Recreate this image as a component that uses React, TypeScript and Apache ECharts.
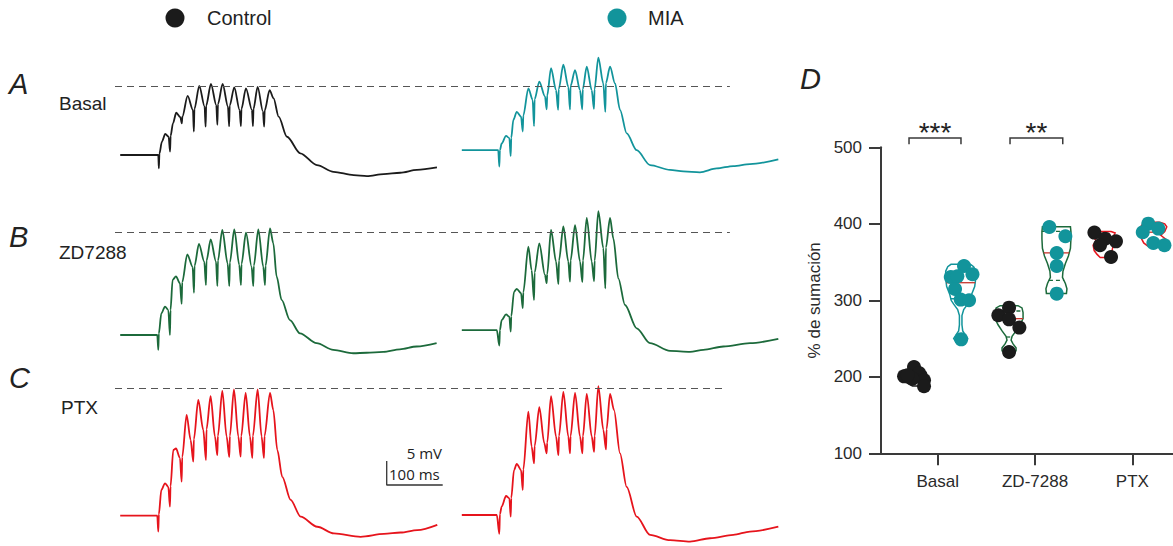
import React, { useEffect, useRef } from "react";
import * as echarts from "echarts";

// ---------- colours ----------
const BLACK = "#1b1b1b";
const TEAL = "#12949b";
const GREEN = "#1c6a3b";
const RED = "#e6141c";
const AXIS = "#3a3a3a";
const FONT = '"Liberation Sans", Arial, sans-serif';

// ---------- traces: [ms from first stimulus, mV from control baseline] ----------
const A_CONTROL: number[][] = [
  [-68, 0], [0, 0], [1, -2.8], [2, 0.3], [6.5, 2.8], [12.5, 4.4],
  [18.5, 3.8], [21, 0.7], [22, 4.0], [26.2, 6.6], [32.1, 8.8],
  [39.3, 7.9], [42, 6.6], [43, 8.0], [52.4, 12.3],
  [61.9, 9.4], [63.5, 4.9], [64.5, 9.6], [73.2, 14.4],
  [82.7, 10.1], [84.5, 5.9], [85.5, 10.3], [94, 14.8],
  [103.6, 10.4], [105.5, 6.3], [106.5, 10.6], [114.9, 14.8],
  [124.4, 10.1], [126.5, 6.0], [127.5, 10.3], [135.7, 14.1],
  [145.2, 9.4], [147.5, 6.0], [148.5, 9.6], [156.5, 13.9],
  [167.3, 9.4], [169, 6.0], [170, 9.6], [177.4, 14.2],
  [186.9, 9.1], [189, 5.9], [190, 9.3], [198.8, 13.5],
  [205.9, 11.8], [214.9, 8.0], [229.8, 3.8], [253.6, 0.35], [283.3, -2.1], [313.1, -3.5],
  [348.8, -4.2], [372.6, -4.4], [402.4, -4.0], [432.1, -3.7], [461.9, -3.1], [497.6, -2.6],
];
const A_MIA: number[][] = [
  [-67, 1.0], [-2, 1.0], [0, -2.4], [1, 1.0], [4.2, 2.4], [12, 4.0],
  [17.9, 3.5], [20.3, -0.2], [21.3, 3.6], [25, 7.3], [31.1, 9.0],
  [38.8, 8.0], [41.8, 4.9], [42.8, 8.2], [51.8, 13.9],
  [59.5, 11.5], [62, 6.0], [63, 11.6], [71.4, 15.3],
  [81.5, 12.2], [84.5, 9.5], [85.5, 12.4], [92.3, 18.1],
  [101.3, 13.5], [105, 9.4], [106, 13.7], [114.3, 18.8],
  [123.2, 14.2], [126.2, 9.5], [127.2, 14.4], [135.2, 17.7],
  [144.1, 13.5], [148, 9.5], [149, 13.7], [156.1, 18.4],
  [165, 13.5], [169, 9.6], [170, 13.7], [176.8, 20.3],
  [185.7, 14.9], [189.3, 9.0], [190.3, 15.0], [197.7, 18.4],
  [206.6, 14.9], [215.5, 9.4], [227.5, 4.5], [245.3, 1.0], [269.1, -2.1], [304.8, -3.1],
  [328.6, -3.4], [358.3, -3.6], [388.1, -2.8], [417.9, -2.3], [447.6, -1.9], [498.2, -0.9],
];
const B_CONTROL: number[][] = [
  [-68, 0], [-1.8, 0], [0, -3.1], [1, 0.3], [5.4, 4.5], [12, 5.9],
  [17.9, 5.2], [20.8, 0], [21.8, 5.2], [25.6, 11.5], [31.6, 12.2],
  [38.7, 10.8], [41.7, 6.5], [42.7, 11.0], [51.8, 16.8],
  [61.3, 14.2], [63.7, 8.8], [64.7, 14.4], [72.6, 19.0],
  [82.1, 15.3], [85.1, 10.4], [86.1, 15.5], [93.6, 19.9],
  [103.1, 15.3], [105.5, 10.2], [106.5, 15.5], [114.3, 21.9],
  [123.8, 14.9], [126.8, 10.2], [127.8, 15.1], [135.7, 22.0],
  [144.6, 14.6], [147.6, 10.4], [148.6, 14.8], [156.6, 21.3],
  [166.7, 14.2], [169.6, 10.2], [170.6, 14.4], [178.6, 22.0],
  [187.5, 14.2], [190.5, 10.4], [191.5, 14.4], [199.5, 22.2],
  [205.4, 19.1], [211.3, 12.2], [220.2, 7.3], [235.1, 3.1], [253, 0.35], [282.7, -1.7],
  [312.5, -3.1], [348.2, -3.8], [372, -3.7], [401.8, -3.5], [431.5, -3.0], [461.3, -2.4], [497, -1.7],
];
const B_MIA: number[][] = [
  [-67, 1.0], [-4.5, 1.0], [0, -2.2], [1, 1.0], [4.2, 3.1], [12, 4.3],
  [17.9, 3.8], [20.3, 0.7], [21.3, 3.9], [26.2, 9.0], [31.1, 9.6],
  [38.8, 8.7], [41.8, 5.6], [42.8, 8.9], [51.8, 18.4],
  [57.7, 13.5], [62, 7.3], [63, 13.0], [71.4, 19.1],
  [81.5, 12.5], [84.5, 10.8], [85.5, 12.7], [92.3, 21.9],
  [101.3, 15.3], [105.5, 10.6], [106.5, 15.5], [114.3, 22.6],
  [123.2, 15.3], [126.2, 11.1], [127.2, 15.5], [135.2, 22.9],
  [144.1, 15.3], [148.3, 11.0], [149.3, 15.5], [156.1, 24.4],
  [165, 15.3], [169.2, 11.2], [170.2, 15.5], [176.8, 25.8],
  [185.7, 18.1], [189.3, 9.7], [190.3, 18.2], [197.7, 24.4],
  [203.6, 20.1], [212.5, 11.8], [224.4, 6.25], [245.3, 1.4], [269.1, -1.7], [304.8, -3.3],
  [340.5, -3.5], [364.3, -3.1], [400, -2.4], [447.6, -1.7], [498.2, -0.8],
];
const C_CONTROL: number[][] = [
  [-68, 0], [-1.8, 0], [0, -3.3], [1, 0.3], [5.4, 5.35], [12, 6.75],
  [17.9, 6.0], [20.8, 1.9], [21.8, 6.1], [26.8, 13.7], [31.6, 14.0],
  [38.7, 12.0], [41.7, 7.1], [42.7, 12.2], [50.6, 21.0],
  [57.7, 15.8], [62.5, 11.25], [63.5, 15.9], [71.4, 24.1],
  [80.4, 17.85], [85.1, 11.6], [86.1, 18.0], [93.4, 24.9],
  [101.2, 16.5], [105.4, 12.6], [106.4, 16.6], [114.3, 26.0],
  [122, 16.5], [126.8, 12.2], [127.8, 16.6], [135.1, 26.3],
  [142.9, 16.5], [147.1, 12.3], [148.1, 16.6], [156, 25.6],
  [163.7, 16.5], [167.9, 12.0], [168.9, 16.6], [177.4, 26.3],
  [184.5, 16.5], [188.7, 12.0], [189.7, 16.6], [199.5, 25.6],
  [205.4, 22.0], [212.5, 13.7], [221.4, 8.1], [236.3, 3.3], [254.2, -0.2], [283.9, -2.3],
  [313.7, -3.7], [361.3, -4.4], [403, -3.8], [432.7, -3.5], [462.5, -3.0], [498.2, -1.9],
];
const C_MIA: number[][] = [
  [-67, 0.15], [-4.5, 0.15], [0, -3.8], [1, 0.3], [4.2, 1.9], [12, 4.1],
  [17.9, 3.6], [20.3, -0.2], [21.3, 3.7], [26.2, 9.5], [31.1, 10.8],
  [38.8, 9.5], [41.8, 5.35], [42.8, 9.6], [51.8, 21.7],
  [57.7, 14.4], [62, 10.9], [63, 14.5], [71.4, 22.6],
  [80.3, 15.1], [84.5, 13.0], [85.5, 15.2], [92.3, 24.9],
  [101.3, 16.5], [105.5, 12.6], [106.5, 16.6], [114.3, 25.8],
  [123.2, 16.5], [126.2, 13.0], [127.2, 16.6], [135.2, 25.6],
  [144.1, 16.5], [148.3, 13.0], [149.3, 16.6], [156.1, 25.4],
  [165, 16.5], [169.2, 13.3], [170.2, 16.6], [176.8, 27.0],
  [185.7, 17.9], [190.5, 13.8], [191.5, 18.0], [197.7, 25.4],
  [204.8, 22.0], [215.5, 13.0], [227.4, 6.0], [245.3, -0.2], [269.1, -4.0], [304.8, -5.1],
  [340.5, -5.4], [376.2, -4.7], [417.9, -4.0], [447.6, -3.3], [498.2, -2.3],
];
const ROW_LABELS = ["Basal", "ZD7288", "PTX"];
const PANEL_LETTERS = ["A", "B", "C", "D"];
const DASH_LEVELS = [14.4, 21.4, 26.5]; // mV of the dashed reference lines
const SCALE_MV = 5;
const SCALE_MS = 100;

// ---------- panel D ----------
const CATEGORIES = ["Basal", "ZD-7288", "PTX"];
const Y_MIN = 100;
const Y_MAX = 500;
const Y_STEP = 100;
const Y_NAME = "% de sumación";
// [x position (category index + jitter), % summation]
const CONTROL_POINTS: number[][] = [
  [0.654, 200.6], [0.756, 212.8], [0.808, 205], [0.859, 195.4], [0.859, 187.6], [0.74, 197.6], [0.689, 202],
  [1.623, 280.4], [1.733, 290.4], [1.733, 275.1], [1.839, 264.3], [1.733, 232.4],
  [2.61, 388.5], [2.72, 380.6], [2.832, 377.1], [2.668, 371.9], [2.781, 356.6],
];
const MIA_POINTS: number[][] = [
  [1.27, 344.8], [1.134, 330.5], [1.202, 331.4], [1.357, 334], [1.178, 314.8], [1.236, 300.9], [1.322, 300], [1.241, 249],
  [2.147, 395.8], [2.312, 383.7], [2.223, 361.8], [2.223, 344.8], [2.223, 308.7],
  [3.164, 400.2], [3.107, 388.9], [3.267, 393.7], [3.216, 374.9], [3.33, 371.9],
];
// violin outlines: [%, half width in category units]
const V_BASAL_CTRL = [[188, 0.03], [193, 0.1], [199, 0.13], [206, 0.11], [213, 0.04]];
const V_BASAL_MIA = [[244, 0], [246, 0.051], [250, 0.072], [254, 0.051], [260, 0.021], [268, 0.013], [280, 0.013], [288, 0.031], [295, 0.072], [300, 0.098], [308, 0.113], [318, 0.144], [328, 0.154], [338, 0.154], [344, 0.133], [347, 0.1]];
const V_ZD_CTRL = [[231, 0.03], [234, 0.072], [238, 0.072], [243, 0.041], [248, 0.021], [253, 0.031], [260, 0.072], [268, 0.113], [276, 0.144], [284, 0.144], [290, 0.133], [293, 0.092]];
const V_ZD_MIA = [[309, 0.103], [315, 0.108], [322, 0.092], [330, 0.062], [338, 0.067], [348, 0.092], [358, 0.123], [368, 0.144], [380, 0.149], [390, 0.149], [396, 0.144]];
const V_PTX_CTRL = [[356, 0.03], [360, 0.062], [365, 0.092], [372, 0.103], [378, 0.072], [383, 0.103], [388, 0.123], [390, 0.082]];
const V_PTX_MIA = [[371, 0.062], [375, 0.103], [380, 0.123], [385, 0.072], [390, 0.113], [396, 0.134], [400, 0.113], [402, 0.062]];
const VIOLINS = [
  { x: 0.77, color: BLACK, outline: V_BASAL_CTRL, median: 200, q: [] as number[] },
  { x: 1.236, color: TEAL, outline: V_BASAL_MIA, median: 323, q: [334, 302] },
  { x: 1.733, color: GREEN, outline: V_ZD_CTRL, median: 276, q: [286, 252] },
  { x: 2.22, color: GREEN, outline: V_ZD_MIA, median: 362, q: [390, 326] },
  { x: 2.7, color: RED, outline: V_PTX_CTRL, median: 377, q: [] as number[] },
  { x: 3.22, color: RED, outline: V_PTX_MIA, median: 389, q: [] as number[] },
];
const BRACKETS = [
  { from: 0.705, to: 1.239, top: 512, leg: 504, label: "***" },
  { from: 1.743, to: 2.285, top: 512, leg: 504, label: "**" },
];

function widthAt(o: number[][], v: number) {
  if (v <= o[0][0]) return o[0][1];
  for (let i = 0; i < o.length - 1; i++) {
    if (v >= o[i][0] && v <= o[i + 1][0]) {
      const f = (v - o[i][0]) / (o[i + 1][0] - o[i][0]);
      return o[i][1] + f * (o[i + 1][1] - o[i][1]);
    }
  }
  return o[o.length - 1][1];
}

export default function App() {
  const ref = useRef<HTMLDivElement>(null);
  useEffect(() => {
    if (!ref.current) return;
    const chart = echarts.init(ref.current, undefined, { renderer: "svg" });

    // layout (px): traces 0.56 px/ms, 4.8 px/mV
    const PX_MS = 0.56;
    const PX_MV = 4.8;
    const TR_LEFT = 115;
    const TR_WIDTH = 665;
    const ZERO_Y = [155, 335, 515.7];
    const V_MIN = -6;
    const V_MAX = 30;
    const CONTROL_ONSET = 77.3;
    const MIA_ONSET = 686.3;
    const DASH_END = [1098, 1098, 1089];
    const rows = [
      { c: A_CONTROL, m: A_MIA, cc: BLACK, mc: TEAL },
      { c: B_CONTROL, m: B_MIA, cc: GREEN, mc: GREEN },
      { c: C_CONTROL, m: C_MIA, cc: RED, mc: RED },
    ];

    const grids: any[] = [];
    const xAxes: any[] = [];
    const yAxes: any[] = [];
    const series: any[] = [];
    const traceLine = (i: number, pts: number[][], onset: number, color: string) => ({
      type: "line", xAxisIndex: i, yAxisIndex: i, symbol: "none", silent: true,
      smooth: 0.3, smoothMonotone: "x",
      data: pts.map(([t, v]) => [t + onset, v]),
      lineStyle: { color, width: 1.8 },
    });
    rows.forEach((r, i) => {
      grids.push({ left: TR_LEFT, width: TR_WIDTH, top: ZERO_Y[i] - V_MAX * PX_MV, height: (V_MAX - V_MIN) * PX_MV });
      xAxes.push({ type: "value", gridIndex: i, min: 0, max: TR_WIDTH / PX_MS, show: false });
      yAxes.push({ type: "value", gridIndex: i, min: V_MIN, max: V_MAX, show: false });
      const ctrl: any = traceLine(i, r.c, CONTROL_ONSET, r.cc);
      ctrl.markLine = {
        symbol: "none", silent: true, label: { show: false },
        lineStyle: { type: [7, 5], color: "#555", width: 1 },
        data: [[{ coord: [0, DASH_LEVELS[i]] }, { coord: [DASH_END[i], DASH_LEVELS[i]] }]],
      };
      series.push(ctrl);
      series.push(traceLine(i, r.m, MIA_ONSET, r.mc));
    });
    // scale bar in row C
    const sbT = 485.2;
    const sbV = 6.4;
    series.push({
      type: "line", xAxisIndex: 2, yAxisIndex: 2, symbol: "none", silent: true,
      data: [[sbT, sbV + SCALE_MV], [sbT, sbV], [sbT + SCALE_MS, sbV]],
      lineStyle: { color: "#333", width: 1.3 },
    });

    // panel D
    grids.push({ left: 881, right: 0, top: 147.3, height: 306 });
    xAxes.push({
      type: "value", gridIndex: 3, min: 0.417, max: 3.418,
      axisLine: { show: true, onZero: false, lineStyle: { color: AXIS, width: 2 } },
      axisTick: { show: true, customValues: [1, 2, 3], length: 12, lineStyle: { color: AXIS, width: 2 } },
      axisLabel: {
        customValues: [1, 2, 3], formatter: (v: number) => CATEGORIES[Math.round(v) - 1] ?? "",
        fontSize: 17, color: "#2a2a2a", fontFamily: FONT, margin: 20,
      },
      splitLine: { show: false },
    });
    yAxes.push({
      type: "value", gridIndex: 3, min: Y_MIN, max: Y_MAX, interval: Y_STEP,
      axisLine: { show: true, lineStyle: { color: AXIS, width: 2 } },
      axisTick: { show: true, length: 12, lineStyle: { color: AXIS, width: 2 } },
      axisLabel: { fontSize: 17, color: "#2a2a2a", fontFamily: FONT, margin: 19 },
      splitLine: { show: false },
      name: Y_NAME, nameLocation: "middle", nameGap: 58,
      nameTextStyle: { fontSize: 17, color: "#2a2a2a", fontFamily: FONT },
    });

    series.push({
      type: "custom", xAxisIndex: 3, yAxisIndex: 3, silent: true, clip: false, z: 2,
      data: VIOLINS.map((_, i) => [i]),
      renderItem: (params: any, api: any) => {
        const vi = VIOLINS[params.dataIndex];
        const right = vi.outline.map(([v, w]) => api.coord([vi.x + w, v]));
        const left = vi.outline.slice().reverse().map(([v, w]) => api.coord([vi.x - w, v]));
        const children: any[] = [
          { type: "polygon", shape: { points: right.concat(left) }, style: { fill: "none", stroke: vi.color, lineWidth: 1.5 } },
        ];
        const hline = (v: number, stroke: string, dash: any) => {
          const w = widthAt(vi.outline, v);
          const a = api.coord([vi.x - w, v]);
          const b = api.coord([vi.x + w, v]);
          children.push({ type: "line", shape: { x1: a[0], y1: a[1], x2: b[0], y2: b[1] }, style: { stroke, lineWidth: 1.3, lineDash: dash } });
        };
        hline(vi.median, "#c8352c", null);
        vi.q.forEach((q) => hline(q, vi.color, [4, 3]));
        return { type: "group", children };
      },
    });
    series.push({
      type: "custom", xAxisIndex: 3, yAxisIndex: 3, silent: true, clip: false,
      data: BRACKETS.map((_, i) => [i]),
      renderItem: (params: any, api: any) => {
        const b = BRACKETS[params.dataIndex];
        const p1 = api.coord([b.from, b.leg]);
        const p2 = api.coord([b.from, b.top]);
        const p3 = api.coord([b.to, b.top]);
        const p4 = api.coord([b.to, b.leg]);
        return {
          type: "group",
          children: [
            { type: "polyline", shape: { points: [p1, p2, p3, p4] }, style: { fill: "none", stroke: AXIS, lineWidth: 1.5 } },
            {
              type: "text",
              style: { text: b.label, x: (p2[0] + p3[0]) / 2, y: p2[1] + 8, align: "center", verticalAlign: "bottom", fontSize: 28, fontFamily: FONT, fill: "#222" },
            },
          ],
        };
      },
    });
    series.push({
      type: "scatter", xAxisIndex: 3, yAxisIndex: 3, symbolSize: 14, z: 3,
      data: CONTROL_POINTS, itemStyle: { color: BLACK, opacity: 1 },
    });
    series.push({
      type: "scatter", xAxisIndex: 3, yAxisIndex: 3, symbolSize: 14, z: 3,
      data: MIA_POINTS, itemStyle: { color: TEAL, opacity: 1 },
    });

    const txt = (text: string, x: number, y: number, size: number, extra: any = {}) => ({
      type: "text", x, y, silent: true,
      style: { text, fontSize: size, fontFamily: FONT, fill: "#222", verticalAlign: "middle", ...extra },
    });

    const graphic: any[] = [
      { type: "circle", shape: { cx: 175, cy: 18, r: 9.5 }, style: { fill: BLACK } },
      txt("Control", 207, 18, 20),
      { type: "circle", shape: { cx: 617, cy: 18, r: 9.5 }, style: { fill: TEAL } },
      txt("MIA", 648, 18, 20),
      txt(PANEL_LETTERS[0], 9, 84, 29, { fontStyle: "italic" }),
      txt(PANEL_LETTERS[1], 9, 237, 29, { fontStyle: "italic" }),
      txt(PANEL_LETTERS[2], 9, 378, 29, { fontStyle: "italic" }),
      txt(PANEL_LETTERS[3], 800, 79, 29, { fontStyle: "italic" }),
      txt(ROW_LABELS[0], 59, 103, 19),
      txt(ROW_LABELS[1], 59, 252, 19),
      txt(ROW_LABELS[2], 61, 407, 19),
      txt(`${SCALE_MV} mV`, 442, 453, 15, { align: "right", fontFamily: '"Open Sans", sans-serif' }),
      txt(`${SCALE_MS} ms`, 389, 474, 15, { fontFamily: '"Open Sans", sans-serif' }),
    ];

    chart.setOption({
      animation: false,
      backgroundColor: "#ffffff",
      grid: grids,
      xAxis: xAxes,
      yAxis: yAxes,
      series,
      graphic,
    });
    return () => chart.dispose();
  }, []);
  return <div ref={ref} style={{ position: "fixed", left: 0, top: 0, width: 1173, height: 546 }} />;
}
